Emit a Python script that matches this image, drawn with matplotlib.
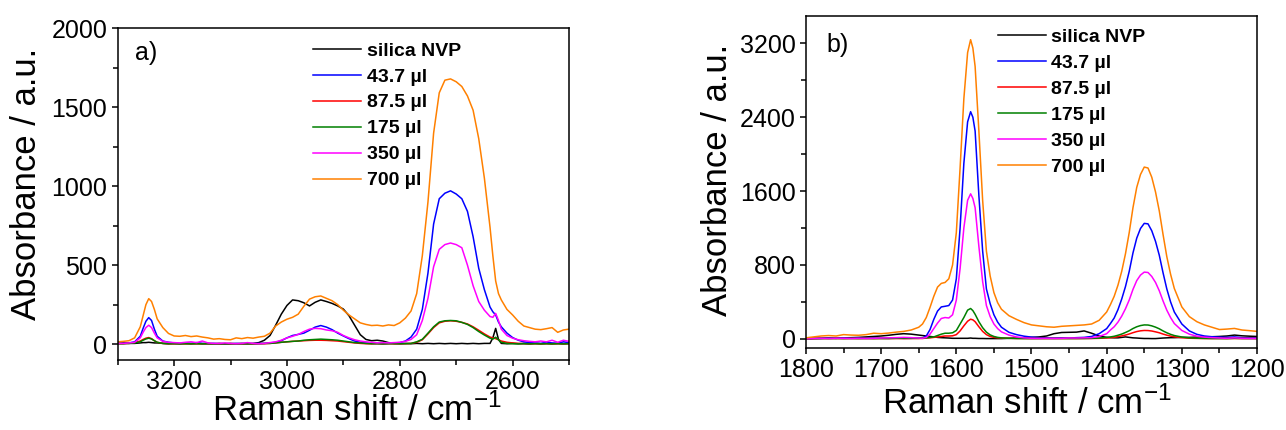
import matplotlib
matplotlib.use('Agg')
import matplotlib.pyplot as plt
from matplotlib.ticker import MultipleLocator

plt.rcParams['font.family'] = ['Liberation Sans', 'DejaVu Sans']
plt.rcParams['mathtext.fontset'] = 'custom'
plt.rcParams['mathtext.rm'] = 'Liberation Sans'
plt.rcParams['mathtext.default'] = 'regular'

labels = ['silica NVP', '43.7 µl', '87.5 µl', '175 µl', '350 µl', '700 µl']
colors = ['#000000', '#0000FF', '#FF0000', '#008000', '#FF00FF', '#FF8000']

# ---------------- panel a) ----------------
xa = [3300, 3290, 3280, 3270, 3260, 3255, 3250, 3245, 3240, 3235, 3230,
      3220, 3210, 3200, 3190, 3180, 3170, 3160, 3150, 3140, 3130,
      3120, 3110, 3100, 3090, 3080, 3070, 3060, 3050, 3040, 3030,
      3020, 3010, 3000, 2990, 2980, 2970, 2960, 2950, 2940, 2930,
      2920, 2910, 2900, 2890, 2880, 2870, 2860, 2850, 2840, 2830,
      2820, 2810, 2800, 2790, 2780, 2770, 2760, 2750, 2740, 2730,
      2720, 2710, 2700, 2690, 2680, 2670, 2660, 2650, 2640,
      2635, 2630, 2625,
      2620, 2610, 2600, 2590, 2580, 2570, 2560, 2550, 2540, 2530, 2520, 2510, 2500]

a_nvp = [5, 8, 5, 5, 8, 10, 10, 12, 10, 8, 8,
         5, 3, 5, 3, 5, 3, 5, 3, 5, 3,
         5, 3, 5, 3, 5, 3, 5, 10, 25, 55,
         120, 190, 245, 280, 275, 262, 242, 265, 280, 270,
         258, 242, 222, 180, 120, 60, 30, 22, 25, 20,
         10, 5, 3, 5, 3, 5, 3, 5, 3, 5,
         3, 5, 3, 5, 3, 5, 3, 5, 5,
         40, 100, 30,
         5, 3, 5, 3, 5, 3, 5, 3, 5, 3, 5, 3, 5]

a_437 = [5, 5, 8, 15, 50, 100, 145, 168, 150, 95, 50,
         20, 12, 8, 5, 8, 5, 10, 5, 3, 5,
         2, 3, 2, 5, 3, 5, 3, 5, 5, 8,
         12, 22, 40, 55, 62, 70, 88, 108, 118, 108,
         92, 70, 52, 35, 20, 12, 8, 5, 5, 3,
         5, 8, 10, 20, 45, 95, 220, 450, 760, 920,
         955, 970, 950, 920, 840, 680, 480, 345, 235,
         205, 185, 140,
         110, 70, 42, 25, 15, 10, 8, 5, 12, 8, 5, 15, 10]

a_875 = [3, 3, 5, 10, 20, 30, 38, 42, 35, 22, 12,
         5, 3, 2, 3, 2, 3, 2, 3, 2, 3,
         2, 3, 2, 3, 2, 3, 2, 3, 3, 5,
         8, 12, 15, 18, 20, 22, 24, 25, 25, 24,
         22, 20, 16, 12, 8, 5, 3, 2, 3, 2,
         3, 2, 3, 3, 5, 12, 28, 65, 105, 135,
         145, 148, 145, 138, 128, 110, 88, 65, 45,
         40, 35, 28,
         20, 12, 8, 5, 3, 2, 3, 2, 3, 2, 3, 2, 3]

a_175 = [3, 3, 5, 8, 15, 25, 33, 38, 33, 22, 12,
         5, 3, 3, 2, 3, 2, 3, 2, 3, 2,
         3, 2, 3, 2, 3, 2, 3, 3, 5, 5,
         8, 12, 15, 18, 20, 25, 28, 30, 32, 30,
         28, 25, 20, 15, 10, 8, 5, 3, 3, 2,
         3, 3, 3, 3, 5, 15, 31, 70, 110, 140,
         148, 150, 148, 138, 125, 105, 80, 58, 38,
         32, 44, 28,
         12, 5, 3, 2, 3, 2, 3, 2, 3, 2, 3, 2, 3]

a_350 = [5, 5, 8, 12, 40, 75, 105, 120, 105, 70, 40,
         18, 12, 10, 8, 12, 15, 10, 20, 8, 5,
         5, 8, 5, 3, 5, 10, 5, 3, 5, 10,
         15, 25, 40, 50, 62, 80, 95, 100, 98, 90,
         85, 75, 55, 40, 28, 20, 15, 12, 8, 10,
         8, 10, 12, 18, 30, 60, 150, 290, 490, 600,
         630, 640, 630, 610, 500, 370, 270, 215, 175,
         170, 195, 150,
         95, 55, 38, 28, 22, 18, 15, 20, 15, 25, 12, 25, 18]

a_700 = [15, 18, 22, 40, 110, 180, 250, 288, 270, 220, 160,
         105, 68, 52, 50, 55, 48, 52, 45, 40, 32,
         35, 30, 28, 40, 35, 42, 38, 45, 50, 70,
         115, 140, 158, 170, 190, 240, 285, 300, 305, 290,
         275, 250, 215, 185, 160, 135, 125, 118, 120, 115,
         122, 118, 135, 165, 210, 320, 560, 900, 1335, 1590,
         1670, 1678, 1660, 1630, 1570, 1480, 1300, 1050, 740,
         560, 400, 320,
         280, 220, 185, 145, 115, 105, 95, 92, 98, 105, 75, 90, 95]

# ---------------- panel b) ----------------
xb = [1800, 1790, 1780, 1770, 1760, 1750, 1740, 1730, 1720, 1710, 1700, 1690, 1680, 1670, 1660, 1650,
      1645, 1640, 1635, 1630, 1625, 1620, 1615, 1610, 1605, 1600, 1595, 1590, 1585,
      1581, 1578,
      1575, 1570, 1565, 1560, 1555, 1550, 1545, 1540,
      1530, 1520, 1510, 1500, 1490, 1480, 1470, 1460, 1450, 1440, 1430, 1420, 1410, 1400,
      1395, 1390, 1385, 1380, 1375, 1370, 1365, 1360, 1355, 1350, 1345, 1340, 1335, 1330, 1325, 1320, 1315, 1310,
      1300, 1290, 1280, 1270, 1260, 1250, 1240, 1230, 1220, 1210, 1200]

b_nvp = [0, 2, 5, 8, 5, 10, 12, 15, 20, 25, 30, 38, 48, 55, 50, 40,
         35, 30, 25, 20, 15, 12, 10, 8, 5, 5, 5, 5, 5,
         8, 5,
         5, 3, 3, 2, 2, 2, 2, 2,
         5, 8, 10, 15, 20, 30, 55, 68, 70, 72, 85, 60, 30, 15,
         12, 10, 10, 15, 20, 15, 10, 8, 5, 3, 3, 2, 2, 5, 8, 10, 12, 12,
         15, 15, 18, 20, 22, 25, 30, 40, 32, 28, 25]

b_437 = [0, 5, 3, 8, 5, 10, 5, 8, 5, 8, 5, 5, 8, 5, 5, 8,
         10, 30, 100, 210, 300, 345, 352, 360, 420, 650, 1200, 1900, 2350,
         2460, 2400,
         2250, 1550, 950, 540, 380, 260, 180, 125,
         70, 45, 28, 18, 12, 10, 8, 10, 8, 12, 15, 25, 55, 110,
         165, 225, 315, 430, 565, 730, 930, 1090, 1195, 1250, 1245, 1170, 1055, 905, 715, 540, 400, 290,
         160, 85, 48, 30, 22, 18, 15, 20, 12, 10, 10]

b_875 = [0, 2, 3, 2, 3, 2, 3, 2, 3, 2, 3, 2, 3, 2, 3, 3,
         3, 8, 10, 15, 20, 25, 30, 30, 32, 45, 85, 140, 190,
         212, 205,
         185, 130, 80, 45, 25, 15, 10, 8,
         5, 3, 3, 2, 3, 2, 3, 2, 3, 2, 3, 3, 5, 8,
         12, 16, 23, 31, 40, 52, 66, 78, 86, 90, 89, 84, 75, 65, 51, 39, 29, 21,
         12, 6, 4, 3, 2, 3, 2, 3, 2, 3, 2]

b_175 = [0, 2, 3, 2, 3, 2, 3, 2, 3, 2, 3, 3, 5, 5, 5, 5,
         8, 10, 15, 20, 35, 50, 60, 60, 65, 90, 160, 230, 310,
         328, 305,
         265, 185, 120, 72, 42, 25, 15, 10,
         5, 3, 2, 2, 2, 3, 2, 3, 2, 3, 3, 5, 8, 15,
         20, 27, 38, 51, 68, 87, 111, 130, 143, 150, 149, 140, 126, 108, 85, 65, 48, 35,
         19, 10, 6, 4, 3, 2, 2, 5, 3, 2, 2]

b_350 = [0, 3, 5, 3, 5, 5, 3, 5, 3, 5, 8, 10, 12, 15, 12, 8,
         6, 15, 50, 110, 170, 220, 230, 225, 260, 420, 760, 1200, 1500,
         1570, 1520,
         1420, 1000, 620, 360, 240, 160, 110, 75,
         40, 20, 10, 5, 3, 5, 3, 5, 8, 8, 10, 12, 25, 55,
         95, 130, 180, 245, 325, 420, 535, 630, 690, 722, 718, 675, 610, 520, 410, 310, 230, 165,
         90, 50, 28, 18, 12, 8, 5, 10, 5, 3, 3]

b_700 = [10, 20, 30, 35, 30, 45, 40, 38, 45, 60, 55, 62, 72, 80, 95, 125,
         160, 230, 340, 460, 560, 600, 610, 650, 800, 1150, 1850, 2600, 3100,
         3240, 3150,
         2950, 2250, 1500, 950, 680, 500, 390, 320,
         250, 210, 175, 150, 140, 130, 125, 135, 140, 145, 150, 160, 200, 290,
         370, 460, 580, 730, 920, 1150, 1420, 1640, 1780, 1860, 1850, 1750, 1590, 1385, 1130, 890, 700, 545,
         345, 240, 185, 150, 125, 100, 105, 112, 95, 88, 80]

series_a = [a_nvp, a_437, a_875, a_175, a_350, a_700]
series_b = [b_nvp, b_437, b_875, b_175, b_350, b_700]

W, H = 1286, 430
fig = plt.figure(figsize=(W / 100, H / 100), dpi=100)

def px_axes(l, t, r, b):
    return fig.add_axes([l / W, 1 - b / H, (r - l) / W, (b - t) / H])

axA = px_axes(117.7, 28, 569, 360)
axB = px_axes(806, 15.7, 1257, 348)

tick_fs = 18
lab_fs = 25
leg_fs = 14

def style(ax):
    for s in ax.spines.values():
        s.set_linewidth(1.1)
    ax.tick_params(which='both', direction='out', top=False, right=False,
                   width=1.1, labelsize=tick_fs, pad=3)
    ax.tick_params(which='major', length=4.5)
    ax.tick_params(which='minor', length=3.5)

for ax, x, ser in [(axA, xa, series_a), (axB, xb, series_b)]:
    for y, c, lab in zip(ser, colors, labels):
        ax.plot(x, y, color=c, lw=1.1, label=lab)
    style(ax)

axA.set_xlim(3300, 2500)
axA.set_ylim(-100, 2000)
axA.xaxis.set_major_locator(MultipleLocator(200))
axA.xaxis.set_minor_locator(MultipleLocator(100))
axA.yaxis.set_major_locator(MultipleLocator(500))
axA.yaxis.set_minor_locator(MultipleLocator(250))

axB.set_xlim(1800, 1200)
axB.set_ylim(-100, 3500)
axB.xaxis.set_major_locator(MultipleLocator(100))
axB.xaxis.set_minor_locator(MultipleLocator(50))
axB.yaxis.set_major_locator(MultipleLocator(800))
axB.yaxis.set_minor_locator(MultipleLocator(400))

xlabel = 'Raman shift / cm$^{-1}$'
ylabel = 'Absorbance / a.u.'
for ax, xl, xy, yl, yy in [(axA, 0.53, -0.10, -0.165, 0.53),
                           (axB, 0.49, -0.115, -0.16, 0.505)]:
    ax.set_xlabel(xlabel, fontsize=lab_fs)
    ax.set_ylabel(ylabel, fontsize=lab_fs)
    ax.xaxis.set_label_coords(xl, xy)
    ax.yaxis.set_label_coords(yl, yy)

axA.text(0.038, 0.925, 'a)', transform=axA.transAxes, fontsize=18,
         ha='left', va='center')
axB.text(0.046, 0.912, 'b)', transform=axB.transAxes, fontsize=18,
         ha='left', va='center')

for ax, lx, ly in [(axA, 0.433, 0.958), (axB, 0.4257, 0.962)]:
    ax.legend(loc='upper left', bbox_to_anchor=(lx, ly), frameon=False,
              prop={'size': leg_fs, 'weight': 'bold'},
              handlelength=2.45, handletextpad=0.3,
              labelspacing=0.43, borderpad=0, borderaxespad=0)

fig.savefig('out.png', dpi=100)
